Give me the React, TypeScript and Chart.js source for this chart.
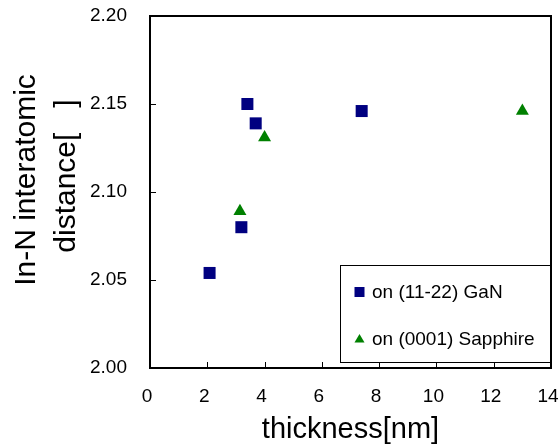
import React, { useEffect, useRef } from 'react';
import { Chart, registerables } from 'chart.js';

Chart.register(...registerables);

// ---- data ----
const gaNLabel = 'on (11-22) GaN';
const sapphireLabel = 'on (0001) Sapphire';
const gaNThickness = [2.08, 3.19, 3.40, 3.69, 7.39];
const gaNDistance = [2.054, 2.080, 2.150, 2.139, 2.146];
const sapphireThickness = [3.14, 4.00, 13.0];
const sapphireDistance = [2.089, 2.131, 2.146];
const xTitle = 'thickness[nm]';
const yTitleLines = ['In-N interatomic', 'distance[   ]'];
const xMin = 0, xMax = 14, xStep = 2;
const yMin = 2.0, yMax = 2.2, yStep = 0.05;

const FONT = "'Liberation Sans', Arial, Helvetica, sans-serif";

export default function App() {
  const ref = useRef<HTMLCanvasElement>(null);

  useEffect(() => {
    document.body.style.margin = '0';
    const canvas = ref.current;
    if (!canvas) return;

    const framePlugin = {
      id: 'frame',
      afterDatasetsDraw(chart: any) {
        const { ctx, scales } = chart;
        const xs = scales.x, ys = scales.y;
        const left = Math.round(xs.getPixelForValue(xMin));
        const right = Math.round(xs.getPixelForValue(xMax));
        const top = Math.round(ys.getPixelForValue(yMax));
        const bottom = Math.round(ys.getPixelForValue(yMin));
        ctx.save();
        ctx.strokeStyle = '#000000';
        ctx.lineWidth = 2;
        ctx.beginPath();
        ctx.moveTo(left, top);
        ctx.lineTo(right, top);
        ctx.lineTo(right, bottom);
        ctx.lineTo(left, bottom);
        ctx.closePath();
        ctx.stroke();
        ctx.lineWidth = 1;
        ctx.beginPath();
        xs.ticks.forEach((t: any) => {
          const px = Math.round(xs.getPixelForValue(t.value)) + 0.5;
          ctx.moveTo(px, bottom);
          ctx.lineTo(px, bottom - 6);
        });
        ys.ticks.forEach((t: any) => {
          const py = Math.round(ys.getPixelForValue(t.value)) + 0.5;
          ctx.moveTo(left, py);
          ctx.lineTo(left + 6, py);
        });
        ctx.stroke();
        ctx.restore();
      },
    };

    const yTitlePlugin = {
      id: 'yTitle',
      afterDraw(chart: any) {
        const { ctx } = chart;
        ctx.save();
        ctx.fillStyle = '#000';
        ctx.font = `30px ${FONT}`;
        ctx.textAlign = 'center';
        ctx.textBaseline = 'alphabetic';
        const baselines = [35, 75];
        const centers = [180, 176];
        yTitleLines.forEach((line, i) => {
          ctx.save();
          ctx.translate(baselines[i], centers[i]);
          ctx.rotate(-Math.PI / 2);
          ctx.fillText(line, 0, 0);
          ctx.restore();
        });
        ctx.restore();
      },
    };

    const legendPlugin = {
      id: 'boxLegend',
      afterDraw(chart: any) {
        const { ctx } = chart;
        ctx.save();
        ctx.strokeStyle = '#000';
        ctx.lineWidth = 1;
        ctx.strokeRect(340.5, 265.5, 210, 97);
        ctx.font = `19px ${FONT}`;
        ctx.textBaseline = 'middle';
        ctx.textAlign = 'left';
        const rows = [292, 339];
        chart.data.datasets.forEach((ds: any, i: number) => {
          const cy = rows[i];
          const cx = 359.5;
          ctx.fillStyle = ds.backgroundColor;
          if (ds.pointStyle === 'triangle') {
            const r = 5.8;
            ctx.beginPath();
            ctx.moveTo(cx, cy - 5);
            ctx.lineTo(cx + r * 0.866, cy + 3.5);
            ctx.lineTo(cx - r * 0.866, cy + 3.5);
            ctx.closePath();
            ctx.fill();
          } else {
            ctx.fillRect(cx - 5, cy - 5, 10, 10);
          }
          ctx.fillStyle = '#000';
          ctx.fillText(ds.label, 372, cy + 1);
        });
        ctx.restore();
      },
    };

    const chart = new Chart(canvas, {
      type: 'scatter',
      data: {
        datasets: [
          {
            label: gaNLabel,
            data: gaNThickness.map((x, i) => ({ x, y: gaNDistance[i] })),
            backgroundColor: '#000080',
            borderColor: '#000080',
            pointStyle: 'rect',
            pointRadius: 8.5,
            pointBorderWidth: 0,
          },
          {
            label: sapphireLabel,
            data: sapphireThickness.map((x, i) => ({ x, y: sapphireDistance[i] })),
            backgroundColor: '#008000',
            borderColor: '#008000',
            pointStyle: 'triangle',
            pointRadius: 7.5,
            pointBorderWidth: 0,
          },
        ],
      },
      options: {
        responsive: true,
        maintainAspectRatio: false,
        animation: false,
        events: [],
        layout: { padding: { left: 0, top: 16, right: 9, bottom: 0 } },
        plugins: {
          legend: { display: false },
          tooltip: { enabled: false },
        },
        scales: {
          x: {
            type: 'linear',
            min: xMin,
            max: xMax,
            grid: { display: false, drawTicks: false },
            border: { display: false },
            ticks: {
              stepSize: xStep,
              padding: 17,
              labelOffset: -3,
              color: '#000',
              font: { family: FONT, size: 19 },
              maxRotation: 0,
            },
            title: {
              display: true,
              text: xTitle,
              color: '#000',
              font: { family: FONT, size: 29 },
              padding: { top: 0, bottom: 0 },
            },
            afterFit(scale: any) {
              scale.height = 79;
              scale.paddingLeft = 0;
              scale.paddingRight = 0;
            },
          },
          y: {
            type: 'linear',
            min: yMin,
            max: yMax,
            grid: { display: false, drawTicks: false },
            border: { display: false },
            ticks: {
              stepSize: yStep,
              padding: 23,
              color: '#000',
              font: { family: FONT, size: 19 },
              callback: (v: any) => Number(v).toFixed(2),
            },
            afterFit(scale: any) {
              scale.width = 150;
              scale.paddingTop = 0;
              scale.paddingBottom = 0;
            },
          },
        },
      },
      plugins: [framePlugin, yTitlePlugin, legendPlugin],
    });

    return () => chart.destroy();
  }, []);

  return (
    <div style={{ width: 560, height: 447, position: 'relative' }}>
      <canvas ref={ref} />
    </div>
  );
}
